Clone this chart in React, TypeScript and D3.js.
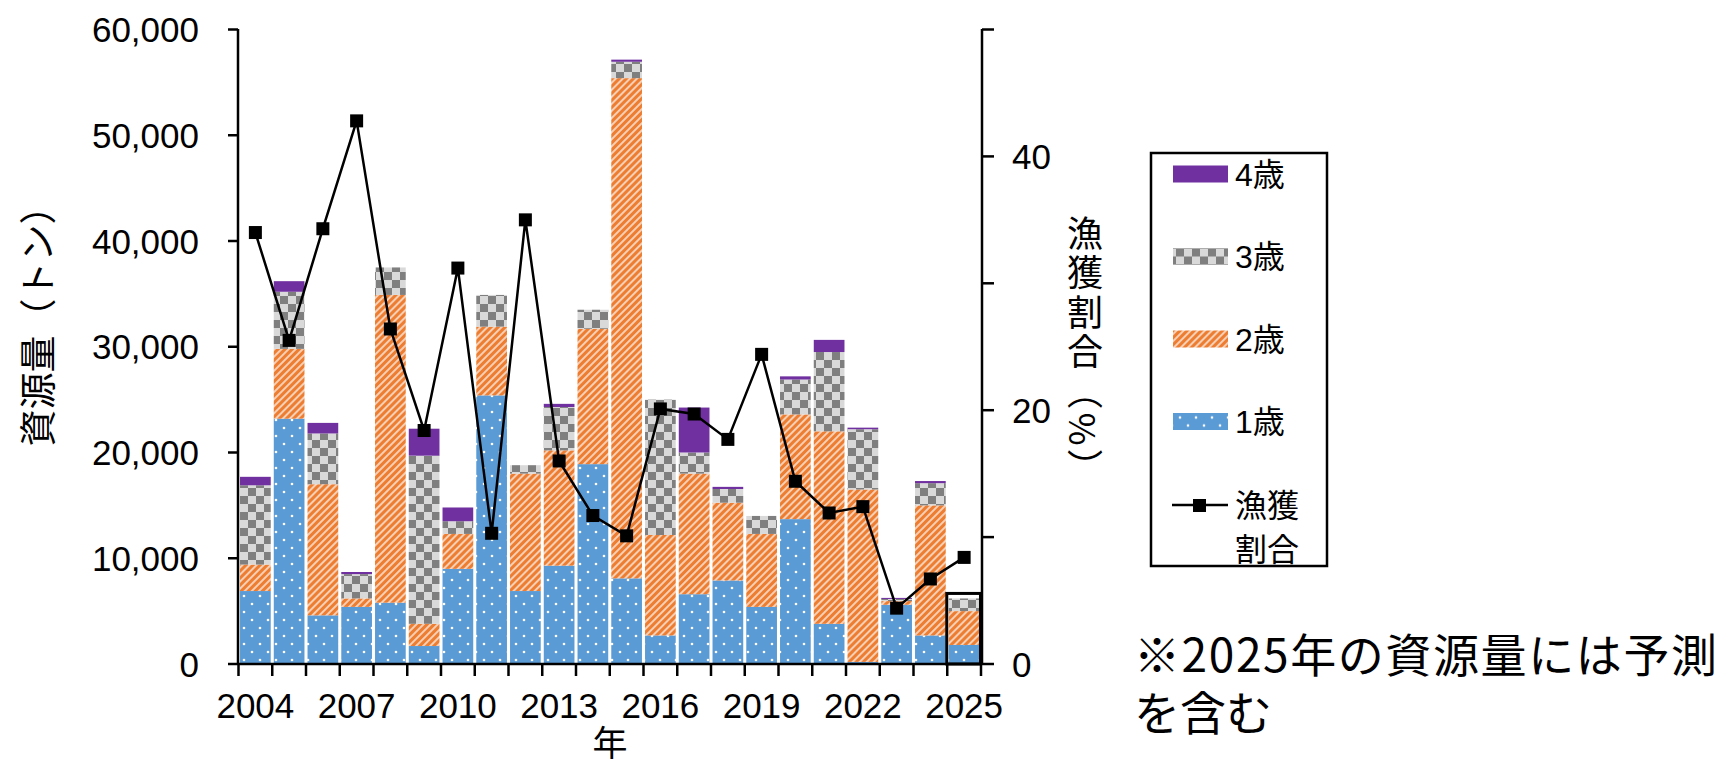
import * as React from "react";
import * as d3 from "d3";

const years = [
  2004, 2005, 2006, 2007, 2008, 2009, 2010, 2011, 2012, 2013, 2014,
  2015, 2016, 2017, 2018, 2019, 2020, 2021, 2022, 2023, 2024, 2025,
];
const age1 = [6900, 23200, 4600, 5400, 5800, 1700, 9000, 25400, 6900, 9300, 18900, 8100, 2700, 6600, 7900, 5400, 13700, 3800, 200, 5600, 2700, 1800];
const age2 = [2500, 6600, 12400, 800, 29100, 2100, 3300, 6500, 11100, 10900, 12800, 47300, 9500, 11400, 7350, 6900, 9900, 18200, 16300, 350, 12300, 3200];
const age3 = [7500, 5400, 4800, 2300, 2600, 15900, 1200, 3000, 800, 4100, 1800, 1550, 12800, 2000, 1300, 1700, 3300, 7500, 5700, 200, 2100, 1200];
const age4 = [800, 1000, 1000, 200, 0, 2550, 1300, 0, 0, 300, 0, 200, 0, 4250, 200, 0, 300, 1150, 150, 100, 200, 0];
const catchRate = [34.0, 25.5, 34.3, 42.8, 26.4, 18.4, 31.2, 10.3, 35.0, 16.0, 11.7, 10.1, 20.1, 19.7, 17.7, 24.4, 14.4, 11.9, 12.4, 4.4, 6.7, 8.4];

const leftTicks = [0, 10000, 20000, 30000, 40000, 50000, 60000];
const rightTicks = [0, 10, 20, 30, 40, 50];
const rightLabels = [0, 20, 40];
const xLabels = [2004, 2007, 2010, 2013, 2016, 2019, 2022, 2025];
const legendItems = ["4歳", "3歳", "2歳", "1歳"];

const keys = ["a1", "a2", "a3", "a4"];
const fills: Record<string, string> = {
  a1: "url(#dots)",
  a2: "url(#stripes)",
  a3: "url(#checker)",
  a4: "#7030A0",
};
const legendFill = ["#7030A0", "url(#checker)", "url(#stripes)", "url(#dots)"];

const latin = "'Liberation Sans', Arial, 'Noto Sans CJK JP', sans-serif";
const cjk = "'Noto Sans CJK JP', sans-serif";

export default function App() {
  const table = years.map((yr, i) => ({
    year: String(yr),
    a1: age1[i],
    a2: age2[i],
    a3: age3[i],
    a4: age4[i],
  }));
  const series = d3.stack<any>().keys(keys)(table);

  const x = d3
    .scaleBand()
    .domain(years.map(String))
    .range([238.5, 981])
    .paddingInner(0.09)
    .paddingOuter(0.045);
  const y = d3.scaleLinear().domain([0, 60000]).range([664, 29.5]);
  const yR = d3.scaleLinear().domain([0, 50]).range([664, 29.5]);

  const bw = x.bandwidth();
  const cx = (yr: number) => (x(String(yr)) as number) + bw / 2;
  const step = x.step();

  const line = d3
    .line<number>()
    .x((_, i) => cx(years[i]))
    .y((d) => yR(d));

  const boundaries = years.map((yr) => cx(yr) - step / 2).concat([cx(2025) + step / 2]);

  const last = years.length - 1;
  const lastTotal = age1[last] + age2[last] + age3[last] + age4[last];

  return (
    <svg
      width={1726}
      height={766}
      style={{ position: "absolute", left: 0, top: 0, background: "#fff" }}
    >
      <defs>
        <pattern id="dots" width={16} height={16} patternUnits="userSpaceOnUse">
          <rect width={16} height={16} fill="#5B9BD5" />
          <circle cx={4} cy={4} r={1.3} fill="#fff" />
          <circle cx={12} cy={12} r={1.3} fill="#fff" />
        </pattern>
        <pattern
          id="stripes"
          width={5}
          height={5}
          patternUnits="userSpaceOnUse"
          patternTransform="rotate(45)"
        >
          <rect width={5} height={5} fill="#ED7D31" />
          <line x1={1} y1={0} x2={1} y2={5} stroke="#FBE5D6" strokeWidth={1.6} />
        </pattern>
        <pattern id="checker" width={16} height={16} patternUnits="userSpaceOnUse">
          <rect width={16} height={16} fill="#D9D9D9" />
          <rect width={8} height={8} fill="#7F7F7F" />
          <rect x={8} y={8} width={8} height={8} fill="#7F7F7F" />
        </pattern>
      </defs>

      {/* bars */}
      {series.map((s) => (
        <g key={s.key} fill={fills[s.key]}>
          {s.map((d: any) => (
            <rect
              key={d.data.year}
              x={x(d.data.year)}
              y={y(d[1])}
              width={bw}
              height={Math.max(0, y(d[0]) - y(d[1]))}
            />
          ))}
        </g>
      ))}

      {/* 2025 forecast box */}
      <rect
        x={(x("2025") as number) - 2}
        y={y(lastTotal) - 5}
        width={bw + 3}
        height={y(0) - y(lastTotal) + 5}
        fill="none"
        stroke="#000"
        strokeWidth={3}
      />

      {/* axes */}
      <g stroke="#000" strokeWidth={2.5}>
        <line x1={238} y1={29} x2={238} y2={665} />
        <line x1={982} y1={29} x2={982} y2={665} />
        <line x1={238} y1={664} x2={982} y2={664} />
        {leftTicks.map((t) => (
          <line key={t} x1={228} x2={238} y1={y(t)} y2={y(t)} />
        ))}
        {rightTicks.map((t) => (
          <line key={t} x1={982} x2={994} y1={yR(t)} y2={yR(t)} />
        ))}
        {boundaries.map((b, i) => (
          <line key={i} x1={b} x2={b} y1={664} y2={676} />
        ))}
      </g>

      <g fontFamily={latin} fontSize={35} fill="#000">
        {leftTicks.map((t) => (
          <text key={t} x={199} y={y(t)} dy="0.36em" textAnchor="end">
            {d3.format(",")(t)}
          </text>
        ))}
        {rightLabels.map((t) => (
          <text key={t} x={1012} y={yR(t)} dy="0.36em" textAnchor="start">
            {t}
          </text>
        ))}
        {xLabels.map((t) => (
          <text key={t} x={cx(t)} y={718} textAnchor="middle">
            {t}
          </text>
        ))}
      </g>

      {/* catch rate line */}
      <path d={line(catchRate) as string} fill="none" stroke="#000" strokeWidth={2.5} />
      {catchRate.map((r, i) => (
        <rect
          key={i}
          x={cx(years[i]) - 6.5}
          y={yR(r) - 6.5}
          width={13}
          height={13}
          fill="#000"
        />
      ))}

      {/* axis titles */}
      <text
        transform="translate(36,317) rotate(-90)"
        fontFamily={cjk}
        fontSize={37}
        textAnchor="middle"
        dominantBaseline="central"
      >
        資源量（トン）
      </text>
      <text x={610} y={756} fontFamily={cjk} fontSize={35} textAnchor="middle">
        年
      </text>
      <text
        x={1085}
        y={215}
        fontFamily={cjk}
        fontSize={36}
        letterSpacing={3.5}
        style={{ writingMode: "vertical-rl" }}
      >
        漁獲割合（%）
      </text>

      {/* legend */}
      <rect x={1151} y={153} width={176} height={413} fill="#fff" stroke="#000" strokeWidth={2.5} />
      {legendItems.map((lab, i) => (
        <g key={lab} transform={`translate(0, ${174 + i * 82.5})`}>
          <rect x={1173} y={-8.5} width={55} height={17} fill={legendFill[i]} />
          <text x={1235} y={0} dy="0.36em" fontFamily={latin} fontSize={32}>
            {lab}
          </text>
        </g>
      ))}
      <line x1={1172} x2={1228} y1={505} y2={505} stroke="#000" strokeWidth={2.5} />
      <rect x={1193} y={499} width={13} height={13} fill="#000" />
      <text x={1235} y={505} dy="0.36em" fontFamily={cjk} fontSize={32}>
        漁獲
      </text>
      <text x={1235} y={549} dy="0.36em" fontFamily={cjk} fontSize={32}>
        割合
      </text>

      {/* note */}
      <text x={1134} y={672} fontFamily={cjk} fontSize={46} textLength={583} lengthAdjust="spacing">
        ※2025年の資源量には予測
      </text>
      <text x={1134} y={730} fontFamily={cjk} fontSize={46}>
        を含む
      </text>
    </svg>
  );
}
